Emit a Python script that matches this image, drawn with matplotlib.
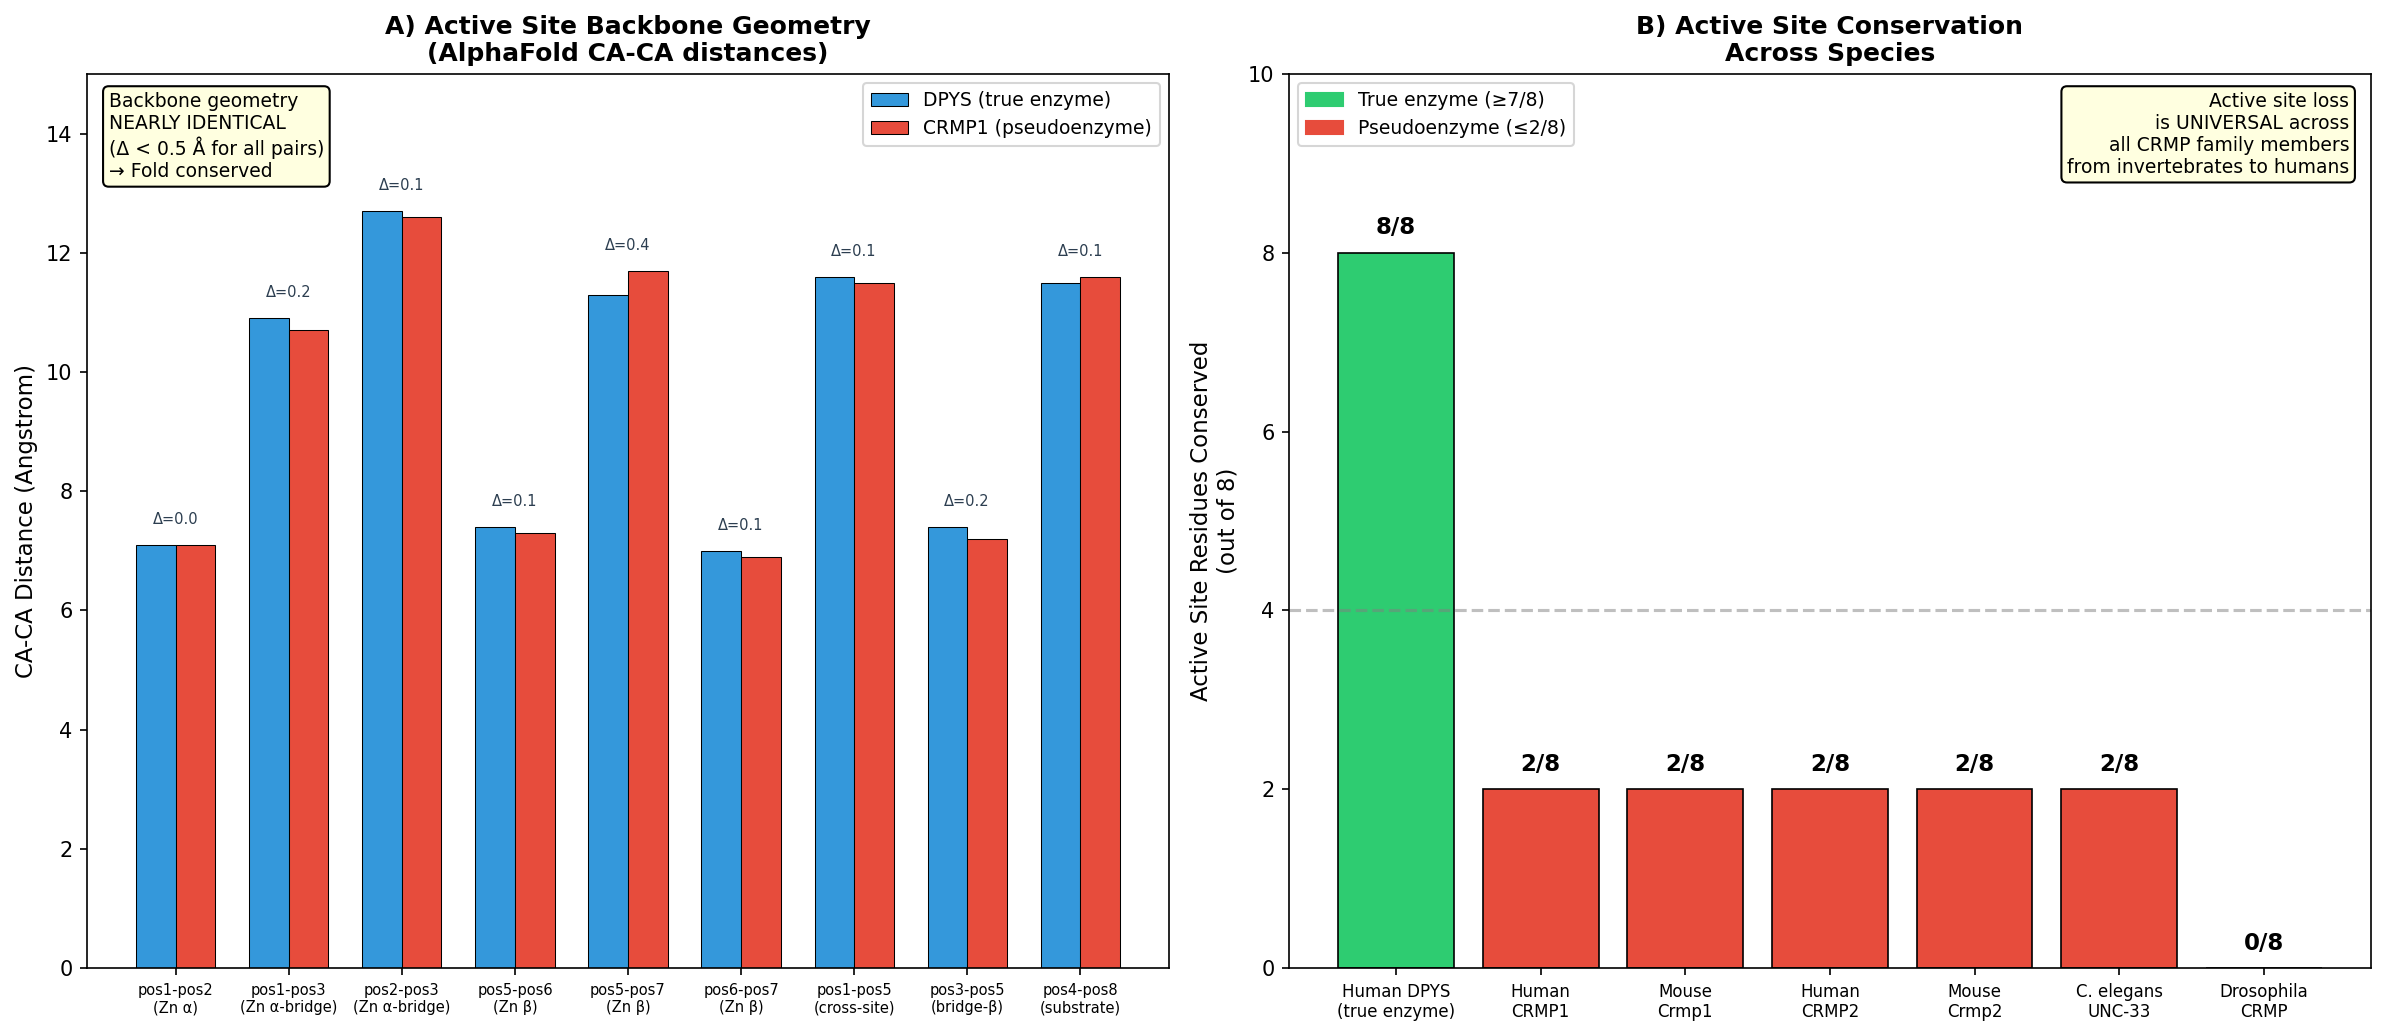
import numpy as np
import matplotlib.pyplot as plt
from matplotlib.patches import Patch

# panel A data
pairs = ['pos1-pos2\n(Zn α)', 'pos1-pos3\n(Zn α-bridge)', 'pos2-pos3\n(Zn α-bridge)',
         'pos5-pos6\n(Zn β)', 'pos5-pos7\n(Zn β)', 'pos6-pos7\n(Zn β)',
         'pos1-pos5\n(cross-site)', 'pos3-pos5\n(bridge-β)', 'pos4-pos8\n(substrate)']
dpys = [7.1, 10.9, 12.7, 7.4, 11.3, 7.0, 11.6, 7.4, 11.5]
crmp1 = [7.1, 10.7, 12.6, 7.3, 11.7, 6.9, 11.5, 7.2, 11.6]

# panel B data
species = ['Human DPYS\n(true enzyme)', 'Human\nCRMP1', 'Mouse\nCrmp1', 'Human\nCRMP2',
           'Mouse\nCrmp2', 'C. elegans\nUNC-33', 'Drosophila\nCRMP']
conserved = [8, 2, 2, 2, 2, 2, 0]

blue = '#3498db'
red = '#e74c3c'
green = '#2ecc71'

fig, (ax1, ax2) = plt.subplots(1, 2, figsize=(2385 / 150, 1036 / 150), dpi=150)
fig.subplots_adjust(left=0.0365, right=0.9941, bottom=0.0656, top=0.9286, wspace=0.111)

x = np.arange(len(pairs))
w = 0.35
ax1.bar(x - w / 2, dpys, w, color=blue, edgecolor='black', linewidth=0.5, label='DPYS (true enzyme)')
ax1.bar(x + w / 2, crmp1, w, color=red, edgecolor='black', linewidth=0.5, label='CRMP1 (pseudoenzyme)')
for i in range(len(pairs)):
    d = abs(dpys[i] - crmp1[i])
    ax1.text(x[i], max(dpys[i], crmp1[i]) + 0.3, f'Δ={d:.1f}', ha='center', va='bottom',
             fontsize=7, color='#2c3e50')
ax1.set_xticks(x)
ax1.set_xticklabels(pairs, fontsize=7)
ax1.set_ylabel('CA-CA Distance (Angstrom)', fontsize=11)
ax1.set_title('A) Active Site Backbone Geometry\n(AlphaFold CA-CA distances)', fontsize=12, fontweight='bold')
ax1.set_ylim(0, 15)
ax1.legend(loc='upper right', fontsize=9)
ax1.text(0.02, 0.98, 'Backbone geometry\nNEARLY IDENTICAL\n(Δ < 0.5 Å for all pairs)\n→ Fold conserved',
         transform=ax1.transAxes, fontsize=9, va='top', ha='left',
         bbox=dict(boxstyle='round', facecolor='lightyellow', edgecolor='black'))

xs = np.arange(len(species))
cols = [green if c >= 7 else red for c in conserved]
ax2.bar(xs, conserved, 0.8, color=cols, edgecolor='black', linewidth=0.8)
for i, c in enumerate(conserved):
    ax2.text(xs[i], c + 0.15, f'{c}/8', ha='center', va='bottom', fontsize=11, fontweight='bold')
ax2.axhline(4, color='gray', linestyle='--', alpha=0.5)
ax2.set_xticks(xs)
ax2.set_xticklabels(species, fontsize=8)
ax2.set_ylabel('Active Site Residues Conserved\n(out of 8)', fontsize=11)
ax2.set_title('B) Active Site Conservation\nAcross Species', fontsize=12, fontweight='bold')
ax2.set_ylim(0, 10)
ax2.legend(handles=[Patch(color=green, label='True enzyme (≥7/8)'),
                    Patch(color=red, label='Pseudoenzyme (≤2/8)')],
           loc='upper left', fontsize=9)
ax2.text(0.98, 0.98, 'Active site loss\nis UNIVERSAL across\nall CRMP family members\nfrom invertebrates to humans',
         transform=ax2.transAxes, fontsize=9, va='top', ha='right',
         bbox=dict(boxstyle='round', facecolor='lightyellow', edgecolor='black'))

plt.savefig('out.png', dpi=150)
